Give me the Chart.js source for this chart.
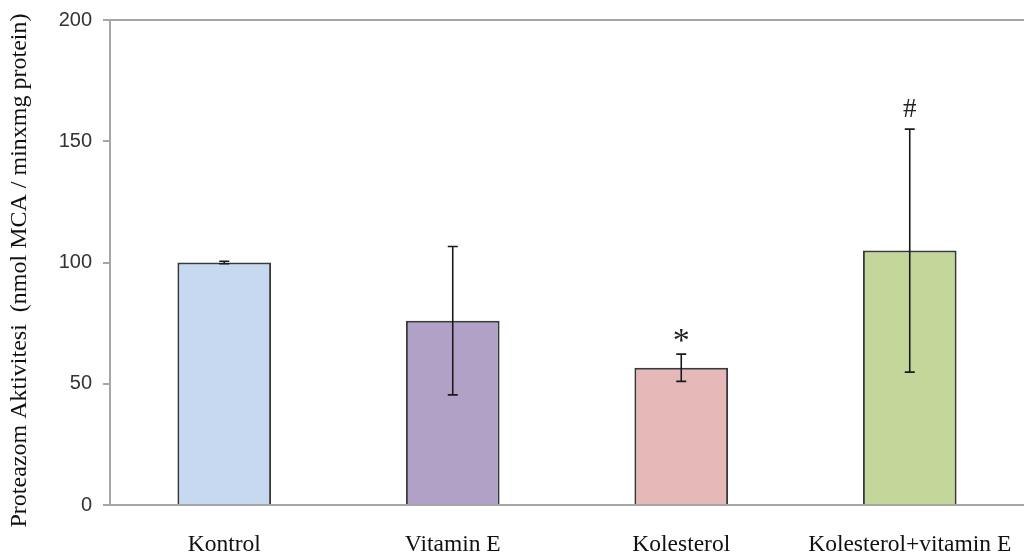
<!DOCTYPE html>
<html>
<head>
<meta charset="utf-8">
<script src="https://cdn.jsdelivr.net/npm/chart.js@4/dist/chart.umd.min.js"></script>
<style>
  html, body { margin: 0; padding: 0; background: #fff; }
  #wrap { width: 1024px; height: 556px; position: relative; }
</style>
</head>
<body>
<div id="wrap"><canvas id="c"></canvas></div>
<script>
// Groups and measured proteasome activity (mean ± SD)
const groups = ['Kontrol', 'Vitamin E', 'Kolesterol', 'Kolesterol+vitamin E'];
const means = [100, 76, 56.6, 104.9];
const errors = [0.5, 30.6, 5.6, 50.1];
const marks = ['', '', '*', '#'];
const barColors = ['#c6d9f0', '#b2a1c7', '#e6b9b8', '#c4d79b'];
const yTicks = [0, 50, 100, 150, 200];
const yTitle = 'Proteazom Aktivitesi  (nmol MCA / minxmg protein)';

const serif = '"Liberation Serif", "Times New Roman", serif';

// Error bars, significance marks, the top frame line and the value-axis title
const extras = {
  id: 'extras',
  afterDatasetsDraw(chart) {
    const ctx = chart.ctx;
    const meta = chart.getDatasetMeta(0);
    const y = chart.scales.y;
    const area = chart.chartArea;
    ctx.save();
    // frame line along the top of the plot
    ctx.strokeStyle = '#a6a6a6';
    ctx.lineWidth = 2;
    ctx.beginPath();
    ctx.moveTo(area.left - 1, area.top);
    ctx.lineTo(area.right, area.top);
    ctx.stroke();

    ctx.strokeStyle = '#1a1a1a';
    ctx.lineWidth = 1.6;
    meta.data.forEach((bar, i) => {
      const x = bar.x;
      const hi = y.getPixelForValue(means[i] + errors[i]);
      const lo = y.getPixelForValue(means[i] - errors[i]);
      const cap = 5;
      ctx.beginPath();
      ctx.moveTo(x, hi); ctx.lineTo(x, lo);
      ctx.moveTo(x - cap, hi); ctx.lineTo(x + cap, hi);
      ctx.moveTo(x - cap, lo); ctx.lineTo(x + cap, lo);
      ctx.stroke();
      if (marks[i]) {
        ctx.fillStyle = '#222';
        ctx.textAlign = 'center';
        ctx.textBaseline = 'alphabetic';
        if (marks[i] === '*') {
          ctx.font = '34px ' + serif;
          ctx.fillText(marks[i], x, hi - 3);
        } else {
          ctx.font = '27px ' + serif;
          ctx.fillText(marks[i], x, hi - 12);
        }
      }
    });

    // rotated title of the value axis
    ctx.fillStyle = '#111';
    ctx.font = '24px ' + serif;
    ctx.textAlign = 'center';
    ctx.textBaseline = 'middle';
    ctx.translate(20, (area.top + area.bottom) / 2 + 8);
    ctx.rotate(-Math.PI / 2);
    ctx.fillText(yTitle, 0, 0);
    ctx.restore();
  }
};

new Chart(document.getElementById('c'), {
  type: 'bar',
  data: {
    labels: groups,
    datasets: [{
      data: means,
      backgroundColor: barColors,
      borderColor: '#3a3a3a',
      borderWidth: 2,
      borderSkipped: 'bottom',
      barPercentage: 0.41,
      categoryPercentage: 1.0
    }]
  },
  options: {
    responsive: true,
    maintainAspectRatio: false,
    animation: false,
    layout: { padding: { top: 20, right: 0, bottom: 0, left: 0 } },
    plugins: { legend: { display: false }, tooltip: { enabled: false } },
    scales: {
      x: {
        grid: { display: false, drawTicks: false },
        border: { color: '#a6a6a6', width: 2 },
        ticks: {
          color: '#111',
          padding: 26,
          maxRotation: 0,
          autoSkip: false,
          font: { family: serif, size: 23.5 }
        },
        afterFit(s) { s.height = 51; s.paddingLeft = 0; s.paddingRight = 0; }
      },
      y: {
        min: 0,
        max: 200,
        afterBuildTicks(s) { s.ticks = yTicks.map(v => ({ value: v })); },
        grid: { drawOnChartArea: false, drawTicks: true, tickLength: 7, color: '#a6a6a6', lineWidth: 2 },
        border: { color: '#a6a6a6', width: 2 },
        ticks: {
          color: '#333',
          padding: 11,
          font: { family: '"Liberation Sans", Arial, sans-serif', size: 20 }
        },
        afterFit(s) { s.width = 110; s.paddingTop = 0; s.paddingBottom = 0; }
      }
    }
  },
  plugins: [extras]
});
</script>
</body>
</html>
